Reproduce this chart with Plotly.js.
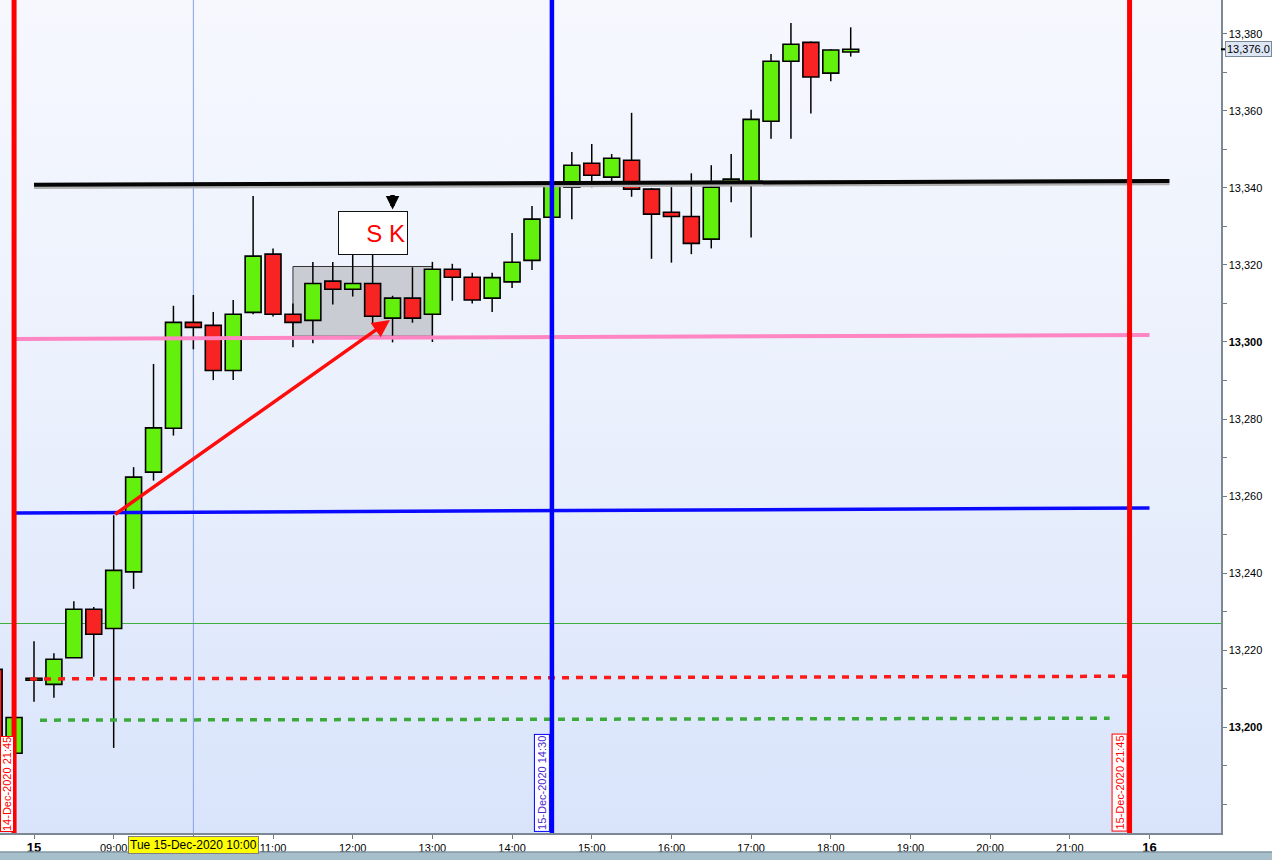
<!DOCTYPE html>
<html>
<head>
<meta charset="utf-8">
<script src="https://cdn.plot.ly/plotly-3.0.1.min.js"></script>
<style>
  html, body { margin: 0; padding: 0; background: #ffffff; }
  #wrap { position: relative; width: 1272px; height: 860px; }
  #bg { position: absolute; left: 0; top: 0; width: 1221px; height: 833px;
        background: linear-gradient(to bottom, #f6f8fe 0%, #eaf0fc 50%, #d9e4fb 100%); }
  #chart { position: absolute; left: 0; top: 0; width: 1272px; height: 860px; }
</style>
</head>
<body>
<div id="wrap"><div id="bg"></div><div id="chart"></div></div>
<script>
// 15-minute bars, indexed from 15-Dec-2020 08:00 (index 0)
const barIndex = [-2,-1,0,1,2,3,4,5,6,7,8,9,10,11,12,13,14,15,16,17,18,19,20,21,22,23,24,25,26,27,28,29,30,31,32,33,34,35,36,37,38,39,40,41];
const openP  = [13215,13193.2,13212.2,13211.1,13218.0,13230.6,13225.6,13240.3,13266.2,13277.6,13305.1,13304.3,13292.6,13307.7,13322.8,13307.2,13305.6,13315.8,13313.7,13315.2,13306.2,13311.4,13307.2,13318.9,13316.8,13311.4,13315.6,13321.2,13332.4,13340.2,13346.4,13342.8,13347.2,13339.7,13333.7,13332.6,13326.7,13340.7,13341.6,13357.3,13372.9,13377.8,13369.8,13375.3];
const highP  = [13216,13202.5,13222.3,13219.2,13232.7,13231.2,13255.0,13267.5,13294.3,13309.4,13312.2,13307.8,13310.9,13337.9,13324.3,13310.0,13320.8,13320.8,13323.0,13324.4,13312.0,13319.4,13320.8,13320.3,13318.0,13318.0,13328.3,13335.3,13342.0,13349.3,13351.4,13348.8,13359.5,13340.0,13340.2,13343.8,13345.9,13348.8,13360.3,13374.8,13382.8,13378.0,13376.0,13381.7];
const lowP   = [13190,13193.2,13206.6,13207.6,13218.0,13213.1,13194.6,13235.9,13264.0,13275.7,13298.1,13290.1,13290.1,13307.2,13306.6,13298.6,13299.7,13309.7,13311.8,13304.9,13299.9,13305.0,13300.0,13310.7,13310.0,13307.8,13314.0,13318.7,13332.0,13331.9,13340.2,13341.5,13337.7,13321.6,13320.6,13322.8,13324.3,13336.3,13327.1,13352.8,13352.8,13359.3,13367.7,13374.1];
const closeP = [13196,13202.5,13212.7,13217.6,13230.6,13224.1,13240.7,13264.9,13277.7,13305.1,13303.8,13292.6,13307.2,13322.3,13307.2,13305.1,13315.2,13313.7,13315.2,13306.7,13311.4,13306.2,13318.9,13316.8,13310.9,13316.7,13320.7,13331.9,13340.8,13345.9,13343.3,13347.7,13339.7,13333.2,13332.6,13325.6,13340.2,13342.3,13357.8,13372.9,13377.3,13368.8,13375.8,13376.0];

// axis ticks
const xTickVals = [0,4,8,12,16,20,24,28,32,36,40,44,48,52,56];
const xTickText = ['<b><span style="font-size:13px">15</span></b>','09:00','','11:00','12:00','13:00','14:00','15:00','16:00','17:00','18:00','19:00','20:00','21:00','<b><span style="font-size:13px">16</span></b>'];
const yTickVals = [13180,13190,13200,13210,13220,13230,13240,13250,13260,13270,13280,13290,13300,13310,13320,13330,13340,13350,13360,13370,13380];
const yTickText = ['','','<b>13,200</b>','','13,220','','13,240','','13,260','','13,280','','<b>13,300</b>','','13,320','','13,340','','13,360','','13,380'];

// drawn levels (start index, start price, end index, end price)
const blackLevel = [0, 13340.8, 57, 13341.8];
const pinkLevel  = [-0.93, 13300.8, 56, 13301.8];
const blueLevel  = [-0.93, 13255.6, 56, 13256.9];
const redDotted  = [-0.2, 13212.5, 55, 13213.2];
const greenDotted= [0.3, 13201.8, 54, 13202.3];
const vRedLeft = -1, vBlue = 26, vRedRight = 55;
const crossX = 8, crossY = 13226.9;
const boxRange = [13, 13301.5, 20, 13319.6];
const arrowFrom = [4, 13255.0], arrowTo = [17.87, 13305.7];
const lastPrice = 13376.0;
const vLabels = ['14-Dec-2020 21:45','15-Dec-2020 14:30','15-Dec-2020 21:45'];
const cursorLabel = 'Tue 15-Dec-2020 10:00';

const GREEN = '#62f00c', RED = '#f82424';

// bodies
const bodyBase = openP.map((o,k)=>Math.min(o, closeP[k]));
const bodyLen  = openP.map((o,k)=>Math.max(Math.abs(closeP[k]-o), 0.35));
const bodyCol  = openP.map((o,k)=> closeP[k] >= o ? GREEN : RED);

// wicks: upper and lower segments only
const wx = [], wy = [];
barIndex.forEach((x,k)=>{
  const top = Math.max(openP[k], closeP[k]);
  const bot = Math.min(openP[k], closeP[k]);
  if (highP[k] > top) { wx.push(x,x,null); wy.push(top, highP[k], null); }
  if (lowP[k] < bot)  { wx.push(x,x,null); wy.push(lowP[k], bot, null); }
});

const traces = [
  { type:'bar', x: barIndex, y: bodyLen, base: bodyBase, width: 0.8,
    marker:{ color: bodyCol, line:{ color:'#000000', width:1.6 } },
    hoverinfo:'skip' },
  { type:'scatter', mode:'lines', x: wx, y: wy, line:{ color:'#000000', width:1.5 },
    hoverinfo:'skip', connectgaps:false }
];

function seg(l, color, width, dash){
  return { type:'line', xref:'x', yref:'y', x0:l[0], y0:l[1], x1:l[2], y1:l[3],
           line:{ color: color, width: width, dash: dash || 'solid' }, layer:'above' };
}
function vline(x, color, width){
  return { type:'line', xref:'x', yref:'paper', x0:x, x1:x, y0:0, y1:1,
           line:{ color: color, width: width }, layer:'above' };
}

const shapes = [
  // crosshair
  { type:'line', xref:'x', yref:'paper', x0:crossX, x1:crossX, y0:0, y1:1, line:{ color:'#86a2ea', width:1 }, layer:'below' },
  { type:'line', xref:'paper', yref:'y', x0:0, x1:1, y0:crossY, y1:crossY, line:{ color:'#3fae3f', width:1.2 }, layer:'below' },
  // gray box
  { type:'rect', xref:'x', yref:'y', x0:boxRange[0], y0:boxRange[1], x1:boxRange[2], y1:boxRange[3],
    fillcolor:'#c9ccd3', line:{ color:'#333333', width:1 }, layer:'below' },
  // levels
  { type:'line', xref:'x', yref:'y', x0:blackLevel[0], y0:blackLevel[1]-0.3, x1:blackLevel[2], y1:blackLevel[3]-0.3,
    line:{ color:'#b0b0b0', width:6 }, layer:'above' },
  seg(blackLevel, '#050505', 4),
  seg(pinkLevel, '#ff86c2', 4),
  seg(blueLevel, '#0a0aff', 3.5),
  seg(redDotted, '#ff1a1a', 3.5, '7px,7px'),
  seg(greenDotted, '#3aaa3a', 3.5, '7px,7px'),
  vline(vRedLeft, '#ff0000', 5),
  vline(vBlue, '#0000ff', 4.5),
  vline(vRedRight, '#ff0000', 5),
  // last price tick
  { type:'line', xref:'paper', yref:'y', x0:1, x1:1.0045, y0:lastPrice, y1:lastPrice, line:{ color:'#000', width:2 } },
  // bottom toolbar strip
  { type:'rect', xref:'paper', yref:'paper', x0:0, x1:1272/1221, y0:-27/833, y1:-19/833,
    fillcolor:'#a7bfcb', line:{ width:0 } },
  { type:'line', xref:'paper', yref:'paper', x0:0, x1:1272/1221, y0:-19/833, y1:-19/833,
    line:{ color:'#8096a3', width:1.5 } }
];

const lblFont = { family:'Liberation Sans, Arial, sans-serif', size:11 };
const annotations = [
  { xref:'paper', yref:'paper', x:0, y:0, xanchor:'left', yanchor:'bottom', xshift:0, yshift:1,
    text: vLabels[0], textangle:-90, showarrow:false, bgcolor:'#ffffff', bordercolor:'#ff0000', borderwidth:1, borderpad:0,
    font: Object.assign({ color:'#ff0000' }, lblFont) },
  { xref:'x', yref:'paper', x:vBlue, y:0, xanchor:'right', yanchor:'bottom', xshift:-2, yshift:1,
    text: vLabels[1], textangle:-90, showarrow:false, bgcolor:'#ffffff', bordercolor:'#0000ff', borderwidth:1, borderpad:1,
    font: Object.assign({ color:'#4a2cd0' }, lblFont) },
  { xref:'x', yref:'paper', x:vRedRight, y:0, xanchor:'right', yanchor:'bottom', xshift:-2, yshift:1,
    text: vLabels[2], textangle:-90, showarrow:false, bgcolor:'#ffffff', bordercolor:'#ff0000', borderwidth:1, borderpad:1,
    font: Object.assign({ color:'#ff0000' }, lblFont) },
  // S K note
  { xref:'x', yref:'y', x:17.02, y:13328.3, text:'S K', showarrow:false, width:64, height:38, align:'right',
    bgcolor:'#ffffff', bordercolor:'#111111', borderwidth:1, borderpad:2,
    font:{ family:'Liberation Sans, Arial, sans-serif', size:24, color:'#ff0000' } },
  // small black arrow
  { xref:'x', yref:'y', x:18.0, y:13334.4, ax:0, ay:-16, text:'', showarrow:true, arrowhead:2, arrowsize:0.6,
    arrowwidth:4.5, arrowcolor:'#000000', standoff:0 },
  // red arrow
  { xref:'x', yref:'y', x:arrowTo[0], y:arrowTo[1], axref:'x', ayref:'y', ax:arrowFrom[0], ay:arrowFrom[1],
    text:'', showarrow:true, arrowhead:2, arrowsize:1, arrowwidth:3.5, arrowcolor:'#ff0d0d', standoff:0 },
  // cursor time label
  { xref:'x', yref:'paper', x:crossX, y:0, yanchor:'top', yshift:-3, text: cursorLabel, showarrow:false,
    bgcolor:'#ffff00', bordercolor:'#7f7f7f', borderwidth:1, borderpad:1,
    font:{ family:'Liberation Sans, Arial, sans-serif', size:12, color:'#000000' } },
  // last price label
  { xref:'paper', yref:'y', x:1, y:lastPrice, xanchor:'left', xshift:4, text:'13,376.0', showarrow:false,
    bgcolor:'#dde6f5', bordercolor:'#7a8898', borderwidth:1, borderpad:1,
    font:{ family:'Liberation Sans, Arial, sans-serif', size:11, color:'#000000' } }
];

const layout = {
  width:1272, height:860,
  margin:{ l:0, r:51, t:0, b:27, pad:0 },
  paper_bgcolor:'rgba(0,0,0,0)', plot_bgcolor:'rgba(0,0,0,0)',
  showlegend:false, hovermode:false, dragmode:false, bargap:0,
  font:{ family:'Liberation Sans, Arial, sans-serif', size:11, color:'#000000' },
  xaxis:{ range:[-1.707, 59.59], tickmode:'array', tickvals:xTickVals, ticktext:xTickText,
          showgrid:false, zeroline:false, ticks:'outside', ticklen:4, tickcolor:'#6f7c88',
          showline:true, linecolor:'#7c8995', linewidth:1.5, fixedrange:true,
          tickfont:{ size:11, color:'#000000' } },
  yaxis:{ side:'right', range:[13172.5, 13388.8], tickmode:'array', tickvals:yTickVals, ticktext:yTickText,
          showgrid:false, zeroline:false, ticks:'outside', ticklen:4, tickcolor:'#6f7c88',
          showline:true, linecolor:'#7c8995', linewidth:1.5, fixedrange:true,
          tickfont:{ size:11, color:'#000000' } },
  shapes: shapes,
  annotations: annotations
};

Plotly.newPlot('chart', traces, layout, { displayModeBar:false, staticPlot:true });
</script>
</body>
</html>
